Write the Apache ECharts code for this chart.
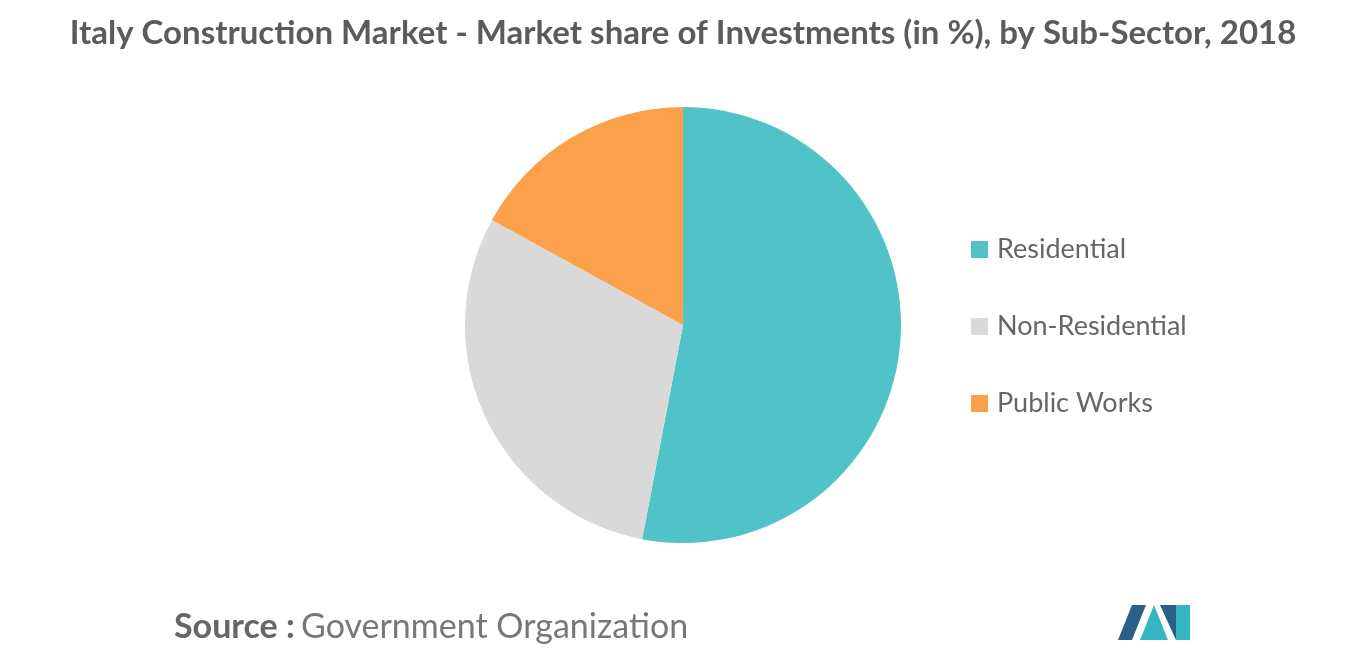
<!DOCTYPE html>
<html><head><meta charset="utf-8">
<script src="https://cdn.jsdelivr.net/npm/echarts@6/dist/echarts.min.js"></script>
<style>html,body{margin:0;padding:0;background:#fff}#c{width:1366px;height:655px}</style>
</head><body><div id="c"></div>
<script>
const categories = ['Residential', 'Non-Residential', 'Public Works'];
const values = [53, 30, 17];
const colors = ['#4fc3c8', '#d9d9d9', '#fba14b'];
const chart = echarts.init(document.getElementById('c'));
chart.setOption({
  animation: false,
  title: {
    text: 'Italy Construction Market - Market share of Investments (in %), by Sub-Sector, 2018',
    left: 'center', top: 12,
    textStyle: {fontFamily: 'Lato', fontSize: 33, fontWeight: 'bold', color: '#5b5b5b'}
  },
  legend: {
    orient: 'vertical', left: 966, top: 231, itemGap: 50,
    itemWidth: 17, itemHeight: 17, icon: 'rect',
    textStyle: {fontFamily: 'Lato', fontSize: 27, color: '#666', padding: [0,0,0,4]},
    data: categories
  },
  series: [{
    type: 'pie', center: [683, 325], radius: 218, startAngle: 90, clockwise: true,
    label: {show: false}, labelLine: {show: false},
    itemStyle: {borderColor: '#fff', borderWidth: 0},
    data: categories.map((n, i) => ({name: n, value: values[i], itemStyle: {color: colors[i]}}))
  }],
  graphic: [
    {type: 'text', left: 174, top: 610, style: {text: 'Source :', fontFamily: 'Lato', fontSize: 34, fontWeight: 'bold', fill: '#666'}},
    {type: 'text', left: 301, top: 610, style: {text: 'Government Organization', fontFamily: 'Lato', fontSize: 34, fill: '#777'}},
    {type: 'polygon', shape: {points: [[1118,640],[1132,605],[1146,605],[1132,640]]}, style: {fill: '#2b5f8a'}},
    {type: 'polygon', shape: {points: [[1140,640],[1154,605],[1168,640]]}, style: {fill: '#35b6c3'}},
    {type: 'polygon', shape: {points: [[1160,605],[1176,605],[1176,640]]}, style: {fill: '#2b5f8a'}},
    {type: 'polygon', shape: {points: [[1176,605],[1190,605],[1190,640],[1176,640]]}, style: {fill: '#35b6c3'}}
  ]
});
</script></body></html>
